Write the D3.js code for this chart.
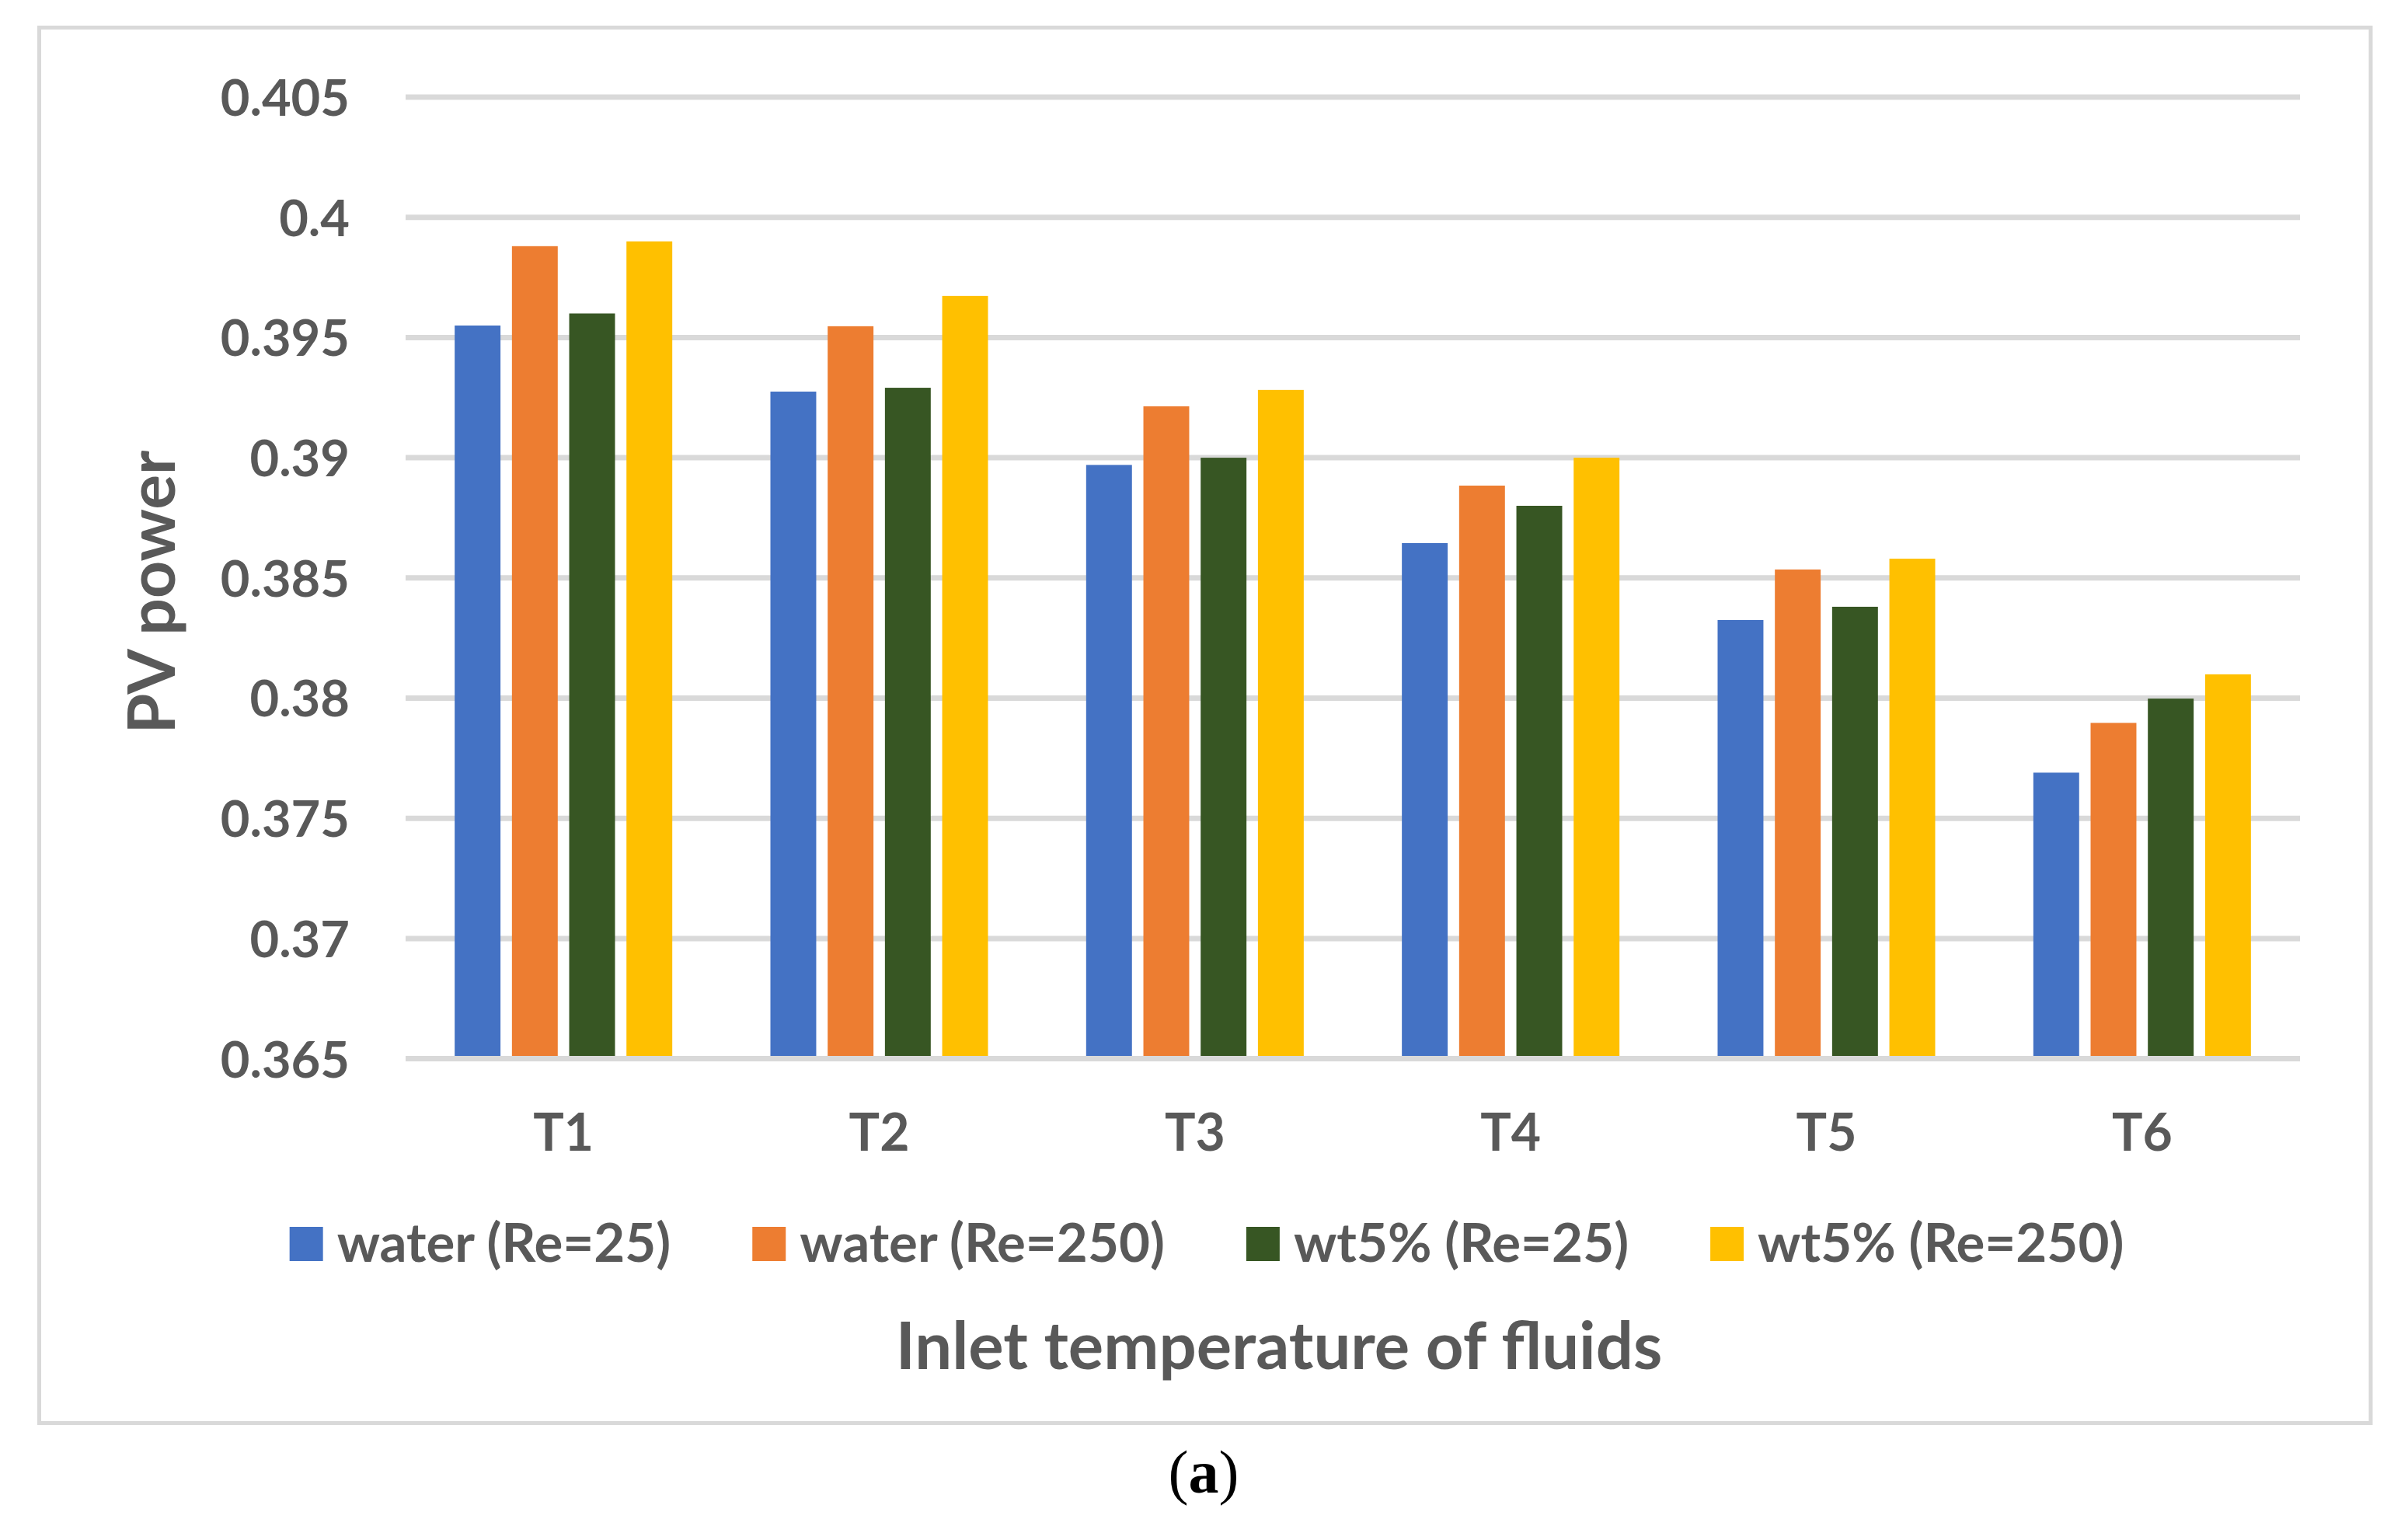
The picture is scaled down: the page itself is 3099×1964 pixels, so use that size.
<!DOCTYPE html>
<html>
<head>
<meta charset="utf-8">
<script src="https://cdn.jsdelivr.net/npm/d3@7"></script>
<style>
  html, body { margin: 0; padding: 0; background: #fff; }
  svg { display: block; }
</style>
</head>
<body>
<svg id="chart" width="3099" height="1964"></svg>
<script>
// ---- data ----
const categories = ["T1", "T2", "T3", "T4", "T5", "T6"];
const seriesNames = ["water (Re=25)", "water (Re=250)", "wt5% (Re=25)", "wt5% (Re=250)"];
const waterRe25   = [0.3955, 0.39275, 0.3897, 0.38645, 0.38325, 0.3769];
const waterRe250  = [0.3988, 0.39547, 0.39214, 0.38884, 0.38535, 0.37897];
const wt5Re25     = [0.3960, 0.39291, 0.3900, 0.3880, 0.3838, 0.37998];
const wt5Re250    = [0.3990, 0.39673, 0.39282, 0.3900, 0.3858, 0.38099];
const yTicks = [0.365, 0.37, 0.375, 0.38, 0.385, 0.39, 0.395, 0.4, 0.405];
const yTickLabels = ["0.365", "0.37", "0.375", "0.38", "0.385", "0.39", "0.395", "0.4", "0.405"];
const colors = ["#4472C4", "#ED7D31", "#375623", "#FFC000"];
const xTitle = "Inlet temperature of fluids";
const yTitle = "PV power";

const seriesValues = [waterRe25, waterRe250, wt5Re25, wt5Re250];

// ---- layout ----
const svg = d3.select("#chart");
const font = "Lato, 'Open Sans', sans-serif";
const textColor = "#595959";
const gridColor = "#d9d9d9";

const plot = { left: 522, right: 2960, top: 125, bottom: 1362.6 };

svg.append("rect").attr("x", 0).attr("y", 0).attr("width", 3099).attr("height", 1964).attr("fill", "#fff");

// chart border
svg.append("rect")
  .attr("x", 50.5).attr("y", 35.5)
  .attr("width", 3051 - 50.5).attr("height", 1831.5 - 35.5)
  .attr("fill", "none").attr("stroke", gridColor).attr("stroke-width", 5);

const y = d3.scaleLinear().domain([0.365, 0.405]).range([plot.bottom, plot.top]);
const x0 = d3.scaleBand().domain(categories).range([plot.left, plot.right]).paddingInner(0).paddingOuter(0);
const x1 = d3.scaleBand().domain(d3.range(seriesNames.length)).range([0, x0.bandwidth()])
  .paddingInner(0.2).paddingOuter(0.857);

// gridlines
svg.append("g").selectAll("line").data(yTicks.slice(1)).join("line")
  .attr("x1", plot.left).attr("x2", plot.right)
  .attr("y1", d => y(d)).attr("y2", d => y(d))
  .attr("stroke", gridColor).attr("stroke-width", 7);

// y tick labels
const yAxis = d3.axisLeft(y).tickValues(yTicks).tickSize(0).tickPadding(0)
  .tickFormat((d, i) => yTickLabels[i]);
const yg = svg.append("g").attr("transform", `translate(450,0)`).call(yAxis);
yg.select(".domain").remove();
yg.selectAll("text")
  .attr("font-family", font).attr("font-weight", 700).attr("font-size", 65)
  .attr("fill", textColor).attr("dy", "0.36em");

// bars
const groups = svg.append("g").selectAll("g").data(categories).join("g")
  .attr("transform", d => `translate(${x0(d)},0)`);
groups.selectAll("rect")
  .data((c, ci) => seriesValues.map((vals, si) => ({ si, v: vals[ci] })))
  .join("rect")
  .attr("x", d => x1(d.si))
  .attr("width", x1.bandwidth())
  .attr("y", d => y(d.v))
  .attr("height", d => y(0.365) - y(d.v))
  .attr("fill", d => colors[d.si]);

// baseline
svg.append("line")
  .attr("x1", plot.left).attr("x2", plot.right)
  .attr("y1", y(0.365)).attr("y2", y(0.365))
  .attr("stroke", gridColor).attr("stroke-width", 7);

// x tick labels
const xAxis = d3.axisBottom(x0).tickSize(0).tickPadding(0);
const xg = svg.append("g").attr("transform", `translate(0,1481)`).call(xAxis);
xg.select(".domain").remove();
xg.selectAll("text")
  .attr("font-family", font).attr("font-weight", 700).attr("font-size", 66)
  .attr("fill", textColor).attr("dy", 0);

// y title
svg.append("text")
  .attr("transform", `translate(225,762) rotate(-90)`)
  .attr("text-anchor", "middle")
  .attr("font-family", font).attr("font-weight", 700).attr("font-size", 84)
  .attr("fill", textColor).text(yTitle);

// x title
svg.append("text")
  .attr("x", 1646).attr("y", 1762)
  .attr("text-anchor", "middle")
  .attr("font-family", font).attr("font-weight", 700).attr("font-size", 85)
  .attr("fill", textColor).text(xTitle);

// legend
const legend = svg.append("g");
const items = legend.selectAll("g").data(seriesNames).join("g");
items.append("rect").attr("width", 43).attr("height", 44).attr("y", 1579)
  .attr("fill", (d, i) => colors[i]);
items.append("text").attr("x", 61).attr("y", 1624)
  .attr("font-family", font).attr("font-weight", 700).attr("font-size", 69)
  .attr("fill", textColor).text(d => d);
const widths = [];
items.each(function() { widths.push(61 + d3.select(this).select("text").node().getComputedTextLength()); });
const gap = 105;
const total = d3.sum(widths) + gap * (widths.length - 1);
let cx = 1553 - total / 2;
items.attr("transform", (d, i) => { const t = `translate(${cx},0)`; cx += widths[i] + gap; return t; });

// caption
const cap = svg.append("text")
  .attr("x", 1549).attr("y", 1921)
  .attr("text-anchor", "middle")
  .attr("font-family", "'Liberation Serif', 'Times New Roman', serif").attr("font-size", 78)
  .attr("fill", "#000");
cap.append("tspan").text("(");
cap.append("tspan").attr("font-weight", 700).text("a");
cap.append("tspan").text(")");
</script>
</body>
</html>
